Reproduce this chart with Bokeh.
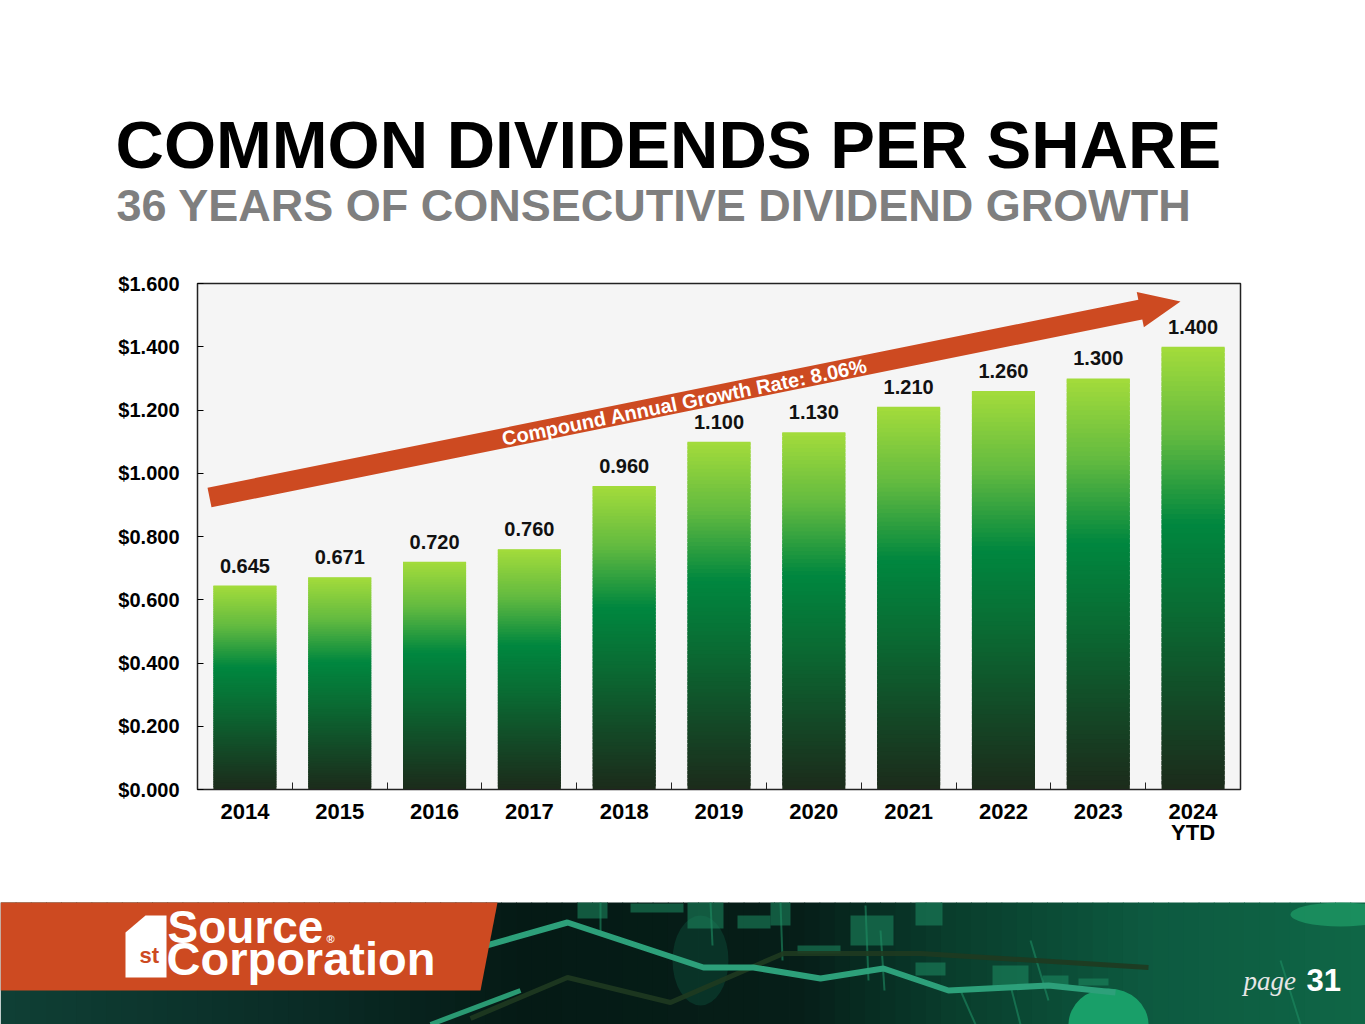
import numpy as np
from bokeh.plotting import figure
from bokeh.layouts import column
from bokeh.models import Range1d, FixedTicker, NumeralTickFormatter, ColumnDataSource
from bokeh.core.properties import value
from bokeh.embed import file_html
from bokeh.resources import INLINE

# data
years = ["2014", "2015", "2016", "2017", "2018", "2019", "2020", "2021", "2022", "2023", "2024\nYTD"]
dividends = [0.645, 0.671, 0.720, 0.760, 0.960, 1.100, 1.130, 1.210, 1.260, 1.300, 1.400]
y_ticks = [0.0, 0.2, 0.4, 0.6, 0.8, 1.0, 1.2, 1.4, 1.6]
title = "COMMON DIVIDENDS PER SHARE"
subtitle = "36 YEARS OF CONSECUTIVE DIVIDEND GROWTH"
cagr_label = "Compound Annual Growth Rate: 8.06%"

FONT = "Liberation Sans"
ORANGE = "#CD4A21"
W = 1365
FL, FR, FT, FB = 197.0, 1240.0, 283.0, 789.0   # plot frame on the page, px
CH0, CH1 = 260, 880                            # chart figure spans these page rows
YMAX = 1.6
BASE_FIX = 0.4   # svg text sits this many em low with an alphabetic baseline
n = len(years)


def hex2rgb(h):
    h = h.lstrip("#")
    return np.array([int(h[i:i + 2], 16) for i in (0, 2, 4)], dtype=float)


def ramp(stops, t):
    for (p0, c0), (p1, c1) in zip(stops[:-1], stops[1:]):
        if t <= p1:
            f = (t - p0) / (p1 - p0) if p1 > p0 else 0
            c = hex2rgb(c0) * (1 - f) + hex2rgb(c1) * f
            return "#%02x%02x%02x" % tuple(int(round(v)) for v in c)
    return stops[-1][1]


def blank(y0, y1):
    # a figure whose data units are page pixels (y downwards)
    return figure(width=W, height=y1 - y0, x_range=Range1d(0, W), y_range=Range1d(y1, y0),
                  x_axis_type=None, y_axis_type=None, toolbar_location=None,
                  output_backend="svg", min_border=0, outline_line_color=None,
                  background_fill_color="white", border_fill_color="white",
                  frame_align=False)


def txt(f, x, y, s, size, color, font=FONT, style="bold"):
    f.text(x=[x], y=[y], text=[s], text_font=value(font), text_font_style=style,
           text_font_size="%dpx" % size, text_color=color, text_baseline="alphabetic",
           y_offset=-BASE_FIX * size)


# ---------------- title block ----------------
top = blank(0, CH0)
txt(top, 115, 171, title, 67, "#000000")
txt(top, 116, 223, subtitle, 45, "#7F7F7F")

# ---------------- chart ----------------
p = figure(width=W, height=CH1 - CH0, x_range=Range1d(0, n), y_range=Range1d(0, YMAX),
           toolbar_location=None, output_backend="svg", frame_align=False,
           min_border_left=int(FL), min_border_right=int(W - FR),
           min_border_top=int(FT - CH0), min_border_bottom=int(CH1 - FB),
           background_fill_color="#F5F5F5", border_fill_color="white",
           outline_line_color="#222222", outline_line_width=1.5)
p.xgrid.grid_line_color = None
p.ygrid.grid_line_color = None


def X(px):
    return (px - FL) / (FR - FL) * n


def Y(py):
    return (FB - py) / (FB - FT) * YMAX


# bars with a vertical gradient, built from thin slices
centers = [i + 0.5 for i in range(n)]
bar_stops = [(0.0, "#A4DC3B"), (0.2, "#62BA40"), (0.4, "#00873F"),
             (0.6, "#0A6B33"), (0.8, "#134A27"), (1.0, "#1C2B1B")]
bw = 0.665
nslice = 90
src = dict(left=[], right=[], bottom=[], top=[], color=[])
for c, v in zip(centers, dividends):
    for k in range(nslice):
        src["left"].append(c - bw / 2)
        src["right"].append(c + bw / 2)
        src["bottom"].append(v * k / nslice)
        src["top"].append(min(v, v * (k + 1.8) / nslice))
        src["color"].append(ramp(bar_stops, 1 - (k + 0.5) / nslice))
p.quad(left="left", right="right", bottom="bottom", top="top", fill_color="color",
       line_color=None, source=ColumnDataSource(src))

p.text(x=centers, y=dividends, text=["%.3f" % v for v in dividends], text_align="center",
       text_baseline="alphabetic", y_offset=-12 - BASE_FIX * 20, text_font=value(FONT),
       text_font_style="bold", text_font_size="20px", text_color="#111111")

# CAGR arrow, laid out in page pixels then mapped to data units
S = np.array([209.0, 497.0])
T = np.array([1180.0, 301.0])
u = (T - S) / np.linalg.norm(T - S)
down = np.array([-u[1], u[0]])          # perpendicular, pointing down the page
hw, hh, hl = 10.0, 18.0, 41.0
B = T - hl * u
pts = [S + hw * down, B + hw * down, B + hh * down, T, B - hh * down, B - hw * down, S - hw * down]
p.patch([X(q[0]) for q in pts], [Y(q[1]) for q in pts], fill_color=ORANGE, line_color=None)
ang = float(np.arctan2(-u[1], u[0]))
mid = S + u * ((684 - S[0]) / u[0])
anchor = mid + (8.5 - BASE_FIX * 20) * down
p.text(x=[X(anchor[0])], y=[Y(anchor[1])], text=[cagr_label], angle=ang,
       text_align="center", text_baseline="alphabetic", text_font=value(FONT),
       text_font_style="bold", text_font_size="20px", text_color="white")

p.xaxis.ticker = FixedTicker(ticks=centers, minor_ticks=list(range(n + 1)))
p.xaxis.major_label_overrides = {c: y for c, y in zip(centers, years)}
p.xaxis.major_tick_in = 0
p.xaxis.major_tick_out = 0
p.xaxis.minor_tick_in = 7
p.xaxis.minor_tick_out = 0
p.xaxis.minor_tick_line_color = "#222222"
p.xaxis.major_label_standoff = 9
p.xaxis.axis_line_color = "#222222"
p.xaxis.major_label_text_font = FONT
p.xaxis.major_label_text_font_style = "bold"
p.xaxis.major_label_text_font_size = "22px"
p.xaxis.major_label_text_line_height = 0.85
p.xaxis.major_label_text_color = "#000000"

p.yaxis.ticker = FixedTicker(ticks=y_ticks)
p.yaxis.formatter = NumeralTickFormatter(format="$0.000")
p.yaxis.major_tick_in = 6
p.yaxis.major_tick_out = 0
p.yaxis.minor_tick_line_color = None
p.yaxis.major_label_standoff = 18
p.yaxis.axis_line_color = "#222222"
p.yaxis.major_label_text_font = FONT
p.yaxis.major_label_text_font_style = "bold"
p.yaxis.major_label_text_font_size = "20px"
p.yaxis.major_label_text_color = "#000000"

# ---------------- footer band ----------------
foot = blank(CH1, 1024)
bg_stops = [(0, "#0F3F35"), (300, "#0A2C26"), (520, "#051A15"), (800, "#061E18"),
            (950, "#093D2C"), (1150, "#0D5A40"), (1365, "#0F6646")]
edges = np.linspace(0, W, 91)
foot.quad(left=edges[:-1], right=edges[1:] + 0.8, bottom=1024, top=902,
          fill_color=[ramp(bg_stops, (a + b) / 2) for a, b in zip(edges[:-1], edges[1:])],
          line_color=None)
foot.ellipse(x=[1108, 1340, 700], y=[1024, 914, 960], width=[80, 100, 56], height=[72, 24, 90],
             fill_color=["#1AA36B", "#22A86E", "#0C4A38"], fill_alpha=[0.95, 0.6, 0.5],
             line_color=None)
# candle-like boxes and wicks
foot.quad(left=[577, 630, 687, 737, 770, 850, 797, 915, 992, 915, 1042, 1078],
          right=[607, 683, 723, 770, 790, 893, 840, 942, 1028, 945, 1068, 1108],
          top=[902, 903, 902, 915, 902, 915, 945, 902, 965, 962, 975, 978],
          bottom=[918, 912, 928, 928, 925, 945, 953, 925, 988, 975, 985, 985],
          fill_color="#1E8C62", fill_alpha=0.55, line_color=None)
foot.segment(x0=[600, 710, 780, 865, 880, 1030, 1280, 960, 1010],
             y0=[902, 902, 902, 905, 930, 940, 960, 990, 985],
             x1=[600, 712, 782, 868, 884, 1048, 1300, 975, 1020],
             y1=[935, 945, 960, 980, 990, 1000, 1024, 1024, 1024],
             line_color="#1E8C62", line_alpha=0.6, line_width=2)
foot.line([470, 567, 670, 783, 920, 1148], [1018, 977, 1002, 953, 953, 967],
          line_color="#1F3A20", line_width=5, line_alpha=0.9)
foot.line([430, 520], [1024, 990], line_color="#2A9A73", line_width=5)
foot.line([440, 567, 703, 753, 820, 883, 948, 1048, 1115],
          [958, 922, 967, 967, 978, 968, 990, 985, 992],
          line_color="#2DA07A", line_width=6)

# orange logo panel
foot.patch([0, 497, 480, 0], [902, 902, 990, 990], fill_color=ORANGE, line_color=None)
foot.patch([125, 145, 166, 166, 125], [932, 915, 915, 977, 977], fill_color="white", line_color=None)
txt(foot, 139, 964, "st", 22, ORANGE)
txt(foot, 167, 945, "Source", 46, "white")
txt(foot, 326, 943, "\u00ae", 11, "white")
txt(foot, 166, 977, "Corporation", 47, "white")

# page number
txt(foot, 1243, 991, "page", 27, "#E6E6E6", font="Liberation Serif", style="italic")
txt(foot, 1306, 992, "31", 31, "white")

page = column(top, p, foot)
open("out.html", "w").write(file_html(page, INLINE))
